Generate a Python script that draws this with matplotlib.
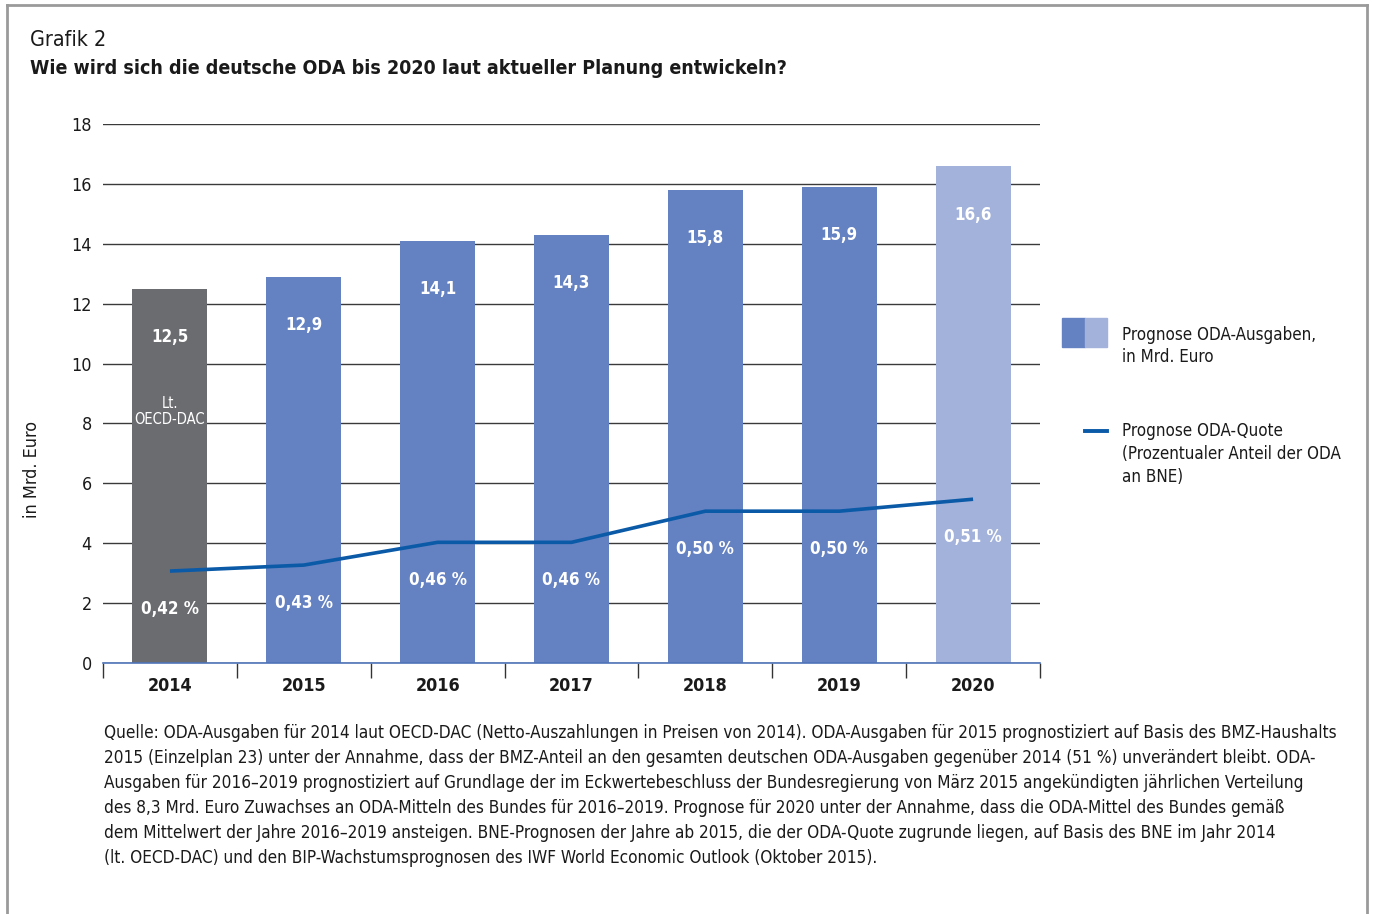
import matplotlib
matplotlib.use("Agg")
import matplotlib.pyplot as plt
from matplotlib import font_manager as fm
from matplotlib.lines import Line2D
from matplotlib.patches import Rectangle

# pick the narrowest sans available
names = {f.name for f in fm.fontManager.ttflist}
stretch = 'normal'
if 'Liberation Sans Narrow' in names:
    family = 'Liberation Sans Narrow'
else:
    family = 'DejaVu Sans'
    if any(f.name == 'DejaVu Sans' and str(f.stretch) in ('condensed', 'semi-condensed')
           for f in fm.fontManager.ttflist):
        stretch = 'condensed'
plt.rcParams['font.family'] = [family, 'DejaVu Sans']
plt.rcParams['font.stretch'] = stretch

# data
years = ['2014', '2015', '2016', '2017', '2018', '2019', '2020']
oda = [12.5, 12.9, 14.1, 14.3, 15.8, 15.9, 16.6]
oda_labels = ['12,5', '12,9', '14,1', '14,3', '15,8', '15,9', '16,6']
quote_line = [3.07, 3.27, 4.03, 4.03, 5.07, 5.07, 5.47]
quote_labels = ['0,42 %', '0,43 %', '0,46 %', '0,46 %', '0,50 %', '0,50 %', '0,51 %']
bar_colors = ['#6b6c70', '#6481c2', '#6481c2', '#6481c2', '#6481c2', '#6481c2', '#a3b2da']

note_lines = [
    'Quelle: ODA-Ausgaben für 2014 laut OECD-DAC (Netto-Auszahlungen in Preisen von 2014). ODA-Ausgaben für 2015 prognostiziert auf Basis des BMZ-Haushalts',
    '2015 (Einzelplan 23) unter der Annahme, dass der BMZ-Anteil an den gesamten deutschen ODA-Ausgaben gegenüber 2014 (51 %) unverändert bleibt. ODA-',
    'Ausgaben für 2016–2019 prognostiziert auf Grundlage der im Eckwertebeschluss der Bundesregierung von März 2015 angekündigten jährlichen Verteilung',
    'des 8,3 Mrd. Euro Zuwachses an ODA-Mitteln des Bundes für 2016–2019. Prognose für 2020 unter der Annahme, dass die ODA-Mittel des Bundes gemäß',
    'dem Mittelwert der Jahre 2016–2019 ansteigen. BNE-Prognosen der Jahre ab 2015, die der ODA-Quote zugrunde liegen, auf Basis des BNE im Jahr 2014',
    '(lt. OECD-DAC) und den BIP-Wachstumsprognosen des IWF World Economic Outlook (Oktober 2015).',
]

W, H = 1373, 914
fig = plt.figure(figsize=(W / 100, H / 100), dpi=100)
renderer = fig.canvas.get_renderer()

# scale font sizes so the first footnote line is as wide as in the reference
probe = fig.text(0, 0, note_lines[0], fontsize=12)
w = probe.get_window_extent(renderer).width
probe.remove()
k = min(1.2, max(0.8, 1233 / w))
def fs(s):
    return s * k

def fx(px):
    return px / W

def fy(py):
    return 1 - py / H

ax = fig.add_axes([fx(103), fy(663), fx(1040) - fx(103), fy(124) - fy(663)])

x = list(range(len(years)))
ax.bar(x, oda, width=0.56, color=bar_colors, zorder=2)
ax.plot(x, quote_line, color='#0a5aa8', lw=2.6, zorder=3, solid_capstyle='butt')

for i in x:
    ax.annotate(oda_labels[i], (i, oda[i]), xytext=(0, -35), textcoords='offset points',
                ha='center', va='center', color='white', fontsize=fs(11.8), fontweight='bold', zorder=4)
    ax.annotate(quote_labels[i], (i, quote_line[i]), xytext=(0, -27), textcoords='offset points',
                ha='center', va='center', color='white', fontsize=fs(11.8), fontweight='bold', zorder=4)
ax.text(0, 8.4, 'Lt.\nOECD-DAC', ha='center', va='center', color='white', fontsize=fs(10.3),
        linespacing=1.15, zorder=4)

ax.set_xlim(-0.5, len(years) - 0.5)
ax.set_ylim(0, 18)
ax.set_yticks(range(0, 19, 2))
ax.set_xticks(x)
ax.set_xticklabels(years, fontsize=fs(12.5), fontweight='bold', color='#1a1a1a')
ax.set_xticks([i - 0.5 for i in range(len(years) + 1)], minor=True)
ax.tick_params(axis='x', which='major', length=0, pad=10)
ax.tick_params(axis='x', which='minor', length=11, width=1, color='#333333', direction='out')
ax.tick_params(axis='y', length=0, pad=8, labelsize=fs(12.5), labelcolor='#1a1a1a')
ax.yaxis.grid(True, color='#3a3a3a', lw=1)
ax.set_axisbelow(True)
for s in ['top', 'right', 'left']:
    ax.spines[s].set_visible(False)
ax.spines['bottom'].set_color('#4f73b8')
ax.spines['bottom'].set_linewidth(1.2)

fig.text(fx(32), fy(470), 'in Mrd. Euro', rotation=90, ha='center', va='center',
         fontsize=fs(12.5), color='#1a1a1a')

# legend, drawn by hand
fig.add_artist(Rectangle((fx(1062), fy(347)), fx(23), fy(318) - fy(347), color='#6481c2'))
fig.add_artist(Rectangle((fx(1085), fy(347)), fx(22), fy(318) - fy(347), color='#a3b2da'))
fig.add_artist(Line2D([fx(1085), fx(1107)], [fy(431), fy(431)], color='#0a5aa8', lw=2.8))
fig.text(fx(1122), fy(346), 'Prognose ODA-Ausgaben,\nin Mrd. Euro', va='center', ha='left',
         fontsize=fs(11.8), color='#1a1a1a', linespacing=1.35)
fig.text(fx(1122), fy(454), 'Prognose ODA-Quote\n(Prozentualer Anteil der ODA\nan BNE)', va='center',
         ha='left', fontsize=fs(11.8), color='#1a1a1a', linespacing=1.35)

fig.text(fx(30), fy(40), 'Grafik 2', fontsize=fs(15), va='center', color='#1a1a1a')
fig.text(fx(30), fy(68), 'Wie wird sich die deutsche ODA bis 2020 laut aktueller Planung entwickeln?',
         fontsize=fs(13.7), fontweight='bold', va='center', color='#1a1a1a')

fig.text(fx(104), fy(724), '\n'.join(note_lines), fontsize=fs(12), va='top', color='#1a1a1a',
         linespacing=1.5)

# frame
fc = '#9a9a9a'
fig.add_artist(Line2D([fx(7), fx(1367)], [fy(5), fy(5)], color=fc, lw=2))
fig.add_artist(Line2D([fx(7), fx(7)], [0, fy(5)], color=fc, lw=2))
fig.add_artist(Line2D([fx(1367), fx(1367)], [0, fy(5)], color=fc, lw=2))

fig.savefig('out.png', dpi=100)
